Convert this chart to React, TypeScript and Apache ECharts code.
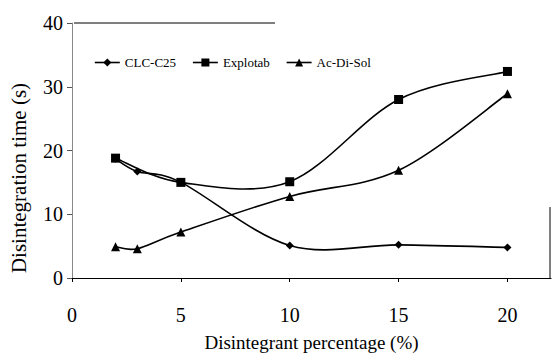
import React, { useEffect, useRef } from "react";
import * as echarts from "echarts";

const xTicks = [0, 5, 10, 15, 20];
const clcX = [2, 3, 5, 10, 15, 20];
const clcY = [18.7, 16.7, 15.0, 5.1, 5.2, 4.8];
const explotabX = [2, 5, 10, 15, 20];
const explotabY = [18.8, 15.0, 15.1, 28.0, 32.4];
const acdisolX = [2, 3, 5, 10, 15, 20];
const acdisolY = [4.9, 4.6, 7.2, 12.8, 16.9, 28.9];

const FONT = "Liberation Serif";

const pairs = (xs: number[], ys: number[]) => xs.map((x, i) => [x, ys[i]]);

// Smooth curve (Catmull-Rom style, like spreadsheet smoothed lines) drawn through axis coordinates
const curveSeries = (name: string, xs: number[], ys: number[]) => ({
  type: "custom" as const,
  name: name + " curve",
  silent: true,
  clip: false,
  z: 1,
  data: [[xs[0], ys[0]]],
  renderItem: (_params: any, api: any) => {
    const pts: number[][] = xs.map((x, i) => api.coord([x, ys[i]]));
    let d = `M${pts[0][0]},${pts[0][1]}`;
    for (let i = 0; i < pts.length - 1; i++) {
      const p0 = pts[i - 1] || pts[i];
      const p1 = pts[i];
      const p2 = pts[i + 1];
      const p3 = pts[i + 2] || pts[i + 1];
      const c1x = p1[0] + (p2[0] - p0[0]) / 6;
      const c1y = p1[1] + (p2[1] - p0[1]) / 6;
      const c2x = p2[0] - (p3[0] - p1[0]) / 6;
      const c2y = p2[1] - (p3[1] - p1[1]) / 6;
      d += ` C${c1x},${c1y} ${c2x},${c2y} ${p2[0]},${p2[1]}`;
    }
    return {
      type: "path",
      shape: { pathData: d },
      style: { stroke: "#000", lineWidth: 1.6, fill: "none" },
    };
  },
});

export default function App() {
  const ref = useRef<HTMLDivElement>(null);
  useEffect(() => {
    if (!ref.current) return;
    const chart = echarts.init(ref.current, undefined, { renderer: "svg" });
    const markerCommon = {
      type: "line" as const,
      showSymbol: true,
      lineStyle: { color: "#000", width: 1.6, opacity: 0 },
      itemStyle: { color: "#000" },
      emphasis: { disabled: true },
      z: 3,
    };
    const legendLine = { color: "#000", width: 1.6, opacity: 1, type: "solid" };
    chart.setOption({
      animation: false,
      backgroundColor: "#fff",
      textStyle: { fontFamily: FONT, color: "#000" },
      grid: { left: 72, right: 1, top: 23, bottom: 78, containLabel: false, outerBoundsMode: "none" },
      legend: {
        left: 89,
        top: 51,
        itemWidth: 25,
        itemHeight: 10,
        itemGap: 16,
        textStyle: { fontFamily: FONT, fontSize: 13, color: "#000" },
        data: [
          { name: "CLC-C25", lineStyle: legendLine },
          { name: "Explotab", lineStyle: legendLine },
          { name: "Ac-Di-Sol", lineStyle: legendLine },
        ],
      },
      xAxis: {
        type: "value",
        min: 0,
        max: 22,
        interval: 5,
        splitLine: { show: false },
        axisLine: { show: true, onZero: false, lineStyle: { color: "#000", width: 1.2 } },
        axisTick: { show: true, length: 4, inside: false, customValues: xTicks, lineStyle: { color: "#000" } },
        axisLabel: {
          customValues: xTicks,
          margin: 27,
          fontSize: 20,
          fontFamily: FONT,
          color: "#000",
        },
        name: "Disintegrant percentage (%)",
        nameLocation: "middle",
        nameGap: 55,
        nameTextStyle: { fontSize: 19, fontFamily: FONT, color: "#000" },
      },
      yAxis: {
        type: "value",
        min: 0,
        max: 40,
        interval: 10,
        splitLine: { show: false },
        axisLine: { show: true, lineStyle: { color: "#888", width: 1 } },
        axisTick: { show: true, length: 5, lineStyle: { color: "#555" } },
        axisLabel: { margin: 9, fontSize: 20, fontFamily: FONT, color: "#000" },
      },
      graphic: [
        {
          type: "text",
          x: 19,
          y: 178,
          rotation: Math.PI / 2,
          style: {
            text: "Disintegration time (s)",
            fontSize: 21,
            fontFamily: FONT,
            fill: "#000",
            align: "center",
            verticalAlign: "middle",
          },
        },
        {
          type: "line",
          shape: { x1: 74, y1: 23, x2: 275, y2: 23 },
          style: { stroke: "#000", lineWidth: 1 },
        },
        {
          type: "line",
          shape: { x1: 550, y1: 207, x2: 550, y2: 278 },
          style: { stroke: "#000", lineWidth: 1 },
        },
      ],
      series: [
        curveSeries("CLC-C25", clcX, clcY),
        curveSeries("Explotab", explotabX, explotabY),
        curveSeries("Ac-Di-Sol", acdisolX, acdisolY),
        {
          ...markerCommon,
          name: "CLC-C25",
          symbol: "diamond",
          symbolSize: 8,
          data: pairs(clcX, clcY),
        },
        {
          ...markerCommon,
          name: "Explotab",
          symbol: "rect",
          symbolSize: 9,
          data: pairs(explotabX, explotabY),
        },
        {
          ...markerCommon,
          name: "Ac-Di-Sol",
          symbol: "triangle",
          symbolSize: 9,
          data: pairs(acdisolX, acdisolY),
        },
      ],
    });
    return () => chart.dispose();
  }, []);
  return <div ref={ref} style={{ width: 552, height: 356, position: "fixed", left: 0, top: 0 }} />;
}
